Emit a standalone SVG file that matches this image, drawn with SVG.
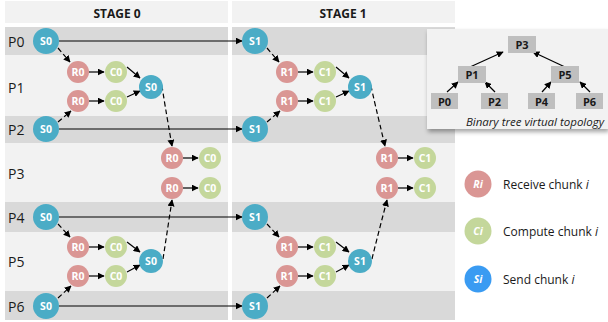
<svg xmlns="http://www.w3.org/2000/svg" width="608" height="322" viewBox="0 0 608 322">
<defs>
<marker id="ah" viewBox="0 0 10 10" refX="9" refY="5" markerWidth="7" markerHeight="7" orient="auto" markerUnits="userSpaceOnUse"><path d="M0,0 L10,5 L0,10 z" fill="#000"/></marker>
<filter id="sh" x="-10%" y="-10%" width="130%" height="140%"><feDropShadow dx="1" dy="3" stdDeviation="2" flood-color="#000" flood-opacity="0.35"/></filter>
<style>
.lt{fill:#f2f2f2}
.dk{fill:#d9d9d9}
.pl{font-family:"Open Sans","Liberation Sans",sans-serif;font-size:14px;fill:#1a1a1a;dominant-baseline:central}
.hd{font-family:"Open Sans","Liberation Sans",sans-serif;font-size:12px;font-weight:bold;fill:#1a1a1a;text-anchor:middle;dominant-baseline:central}
.S{fill:#4bacc6}.R{fill:#da9694}.C{fill:#c4d79b}.SL{fill:#3a9bf2}
.nt{font-family:"Open Sans","Liberation Sans",sans-serif;font-size:10.5px;font-weight:bold;fill:#fff;text-anchor:middle;dominant-baseline:central}
.sol{stroke:#000;stroke-width:1.2;fill:none;marker-end:url(#ah)}
.das{stroke:#000;stroke-width:1.2;fill:none;stroke-dasharray:5,3;marker-end:url(#ah)}
.tb{fill:#bfbfbf}
.tt{font-family:"Open Sans","Liberation Sans",sans-serif;font-size:11px;font-weight:bold;fill:#1a1a1a;text-anchor:middle;dominant-baseline:central}
.lg{font-family:"Open Sans","Liberation Sans",sans-serif;font-size:12px;fill:#1a1a1a;dominant-baseline:central}
.cap{font-family:"Open Sans","Liberation Sans",sans-serif;font-size:11.5px;font-style:italic;fill:#1a1a1a;text-anchor:end;dominant-baseline:central}
</style>
</defs>
<rect width="608" height="322" fill="#fff"/>
<g id="background">
<rect class="lt" x="5" y="1" width="223" height="22"/>
<rect class="lt" x="232" y="1" width="223" height="22"/>
<rect class="dk" x="5" y="27" width="223" height="28"/>
<rect class="dk" x="232" y="27" width="223" height="28"/>
<rect class="lt" x="5" y="55" width="223" height="61"/>
<rect class="lt" x="232" y="55" width="223" height="61"/>
<rect class="dk" x="5" y="116" width="223" height="27"/>
<rect class="dk" x="232" y="116" width="223" height="27"/>
<rect class="lt" x="5" y="143" width="223" height="59"/>
<rect class="lt" x="232" y="143" width="223" height="59"/>
<rect class="dk" x="5" y="202" width="223" height="30"/>
<rect class="dk" x="232" y="202" width="223" height="30"/>
<rect class="lt" x="5" y="232" width="223" height="59"/>
<rect class="lt" x="232" y="232" width="223" height="59"/>
<rect class="dk" x="5" y="291" width="223" height="29"/>
<rect class="dk" x="232" y="291" width="223" height="29"/>
<text class="hd" x="117" y="13">STAGE 0</text>
<text class="hd" x="343" y="13">STAGE 1</text>
<text class="pl" x="8" y="41">P0</text>
<text class="pl" x="8" y="87">P1</text>
<text class="pl" x="8" y="129">P2</text>
<text class="pl" x="8" y="173">P3</text>
<text class="pl" x="8" y="217">P4</text>
<text class="pl" x="8" y="261">P5</text>
<text class="pl" x="8" y="306">P6</text>
</g>
<g id="connectors">
<path class="sol" d="M59,41 H242"/>
<path class="sol" d="M59,129 H242"/>
<path class="sol" d="M59,217 H242"/>
<path class="sol" d="M59,306 H242"/>
<path class="das" d="M58,48 L70,62"/>
<path class="das" d="M58,122 L71,111"/>
<path class="das" d="M58,224 L70,237"/>
<path class="das" d="M58,298 L71,286"/>
<path class="sol" d="M89,72 H104"/><path class="sol" d="M89,101 H104"/>
<path class="sol" d="M89,247 H104"/><path class="sol" d="M89,276 H104"/>
<path class="sol" d="M127,67 L140,78"/><path class="sol" d="M127,97 L140,91"/>
<path class="sol" d="M127,242 L140,252"/><path class="sol" d="M127,272 L140,265"/>
<path class="das" d="M162,86 Q164,100 172,146"/>
<path class="das" d="M163,259 Q165,246 172,200"/>
<path class="sol" d="M183,158 H198"/><path class="sol" d="M183,188 H198"/>
<path class="das" d="M267,48 L279,62"/>
<path class="das" d="M267,122 L280,111"/>
<path class="das" d="M267,224 L279,237"/>
<path class="das" d="M267,298 L280,286"/>
<path class="sol" d="M298,72 H313"/><path class="sol" d="M298,101 H313"/>
<path class="sol" d="M298,247 H313"/><path class="sol" d="M298,276 H313"/>
<path class="sol" d="M336,67 L349,78"/><path class="sol" d="M336,97 L349,91"/>
<path class="sol" d="M336,242 L349,252"/><path class="sol" d="M336,272 L349,265"/>
<path class="das" d="M371,86 Q374,100 385,146"/>
<path class="das" d="M372,259 Q375,246 387,200"/>
<path class="sol" d="M398,158 H413"/><path class="sol" d="M398,188 H413"/>
</g>
<g id="s0-p0"><circle class="S" cx="46" cy="41" r="13"/><text class="nt" x="46" y="41">S0</text></g>
<g id="r0-p1a"><circle class="R" cx="78" cy="72" r="11"/><text class="nt" x="78" y="72">R0</text></g>
<g id="c0-p1a"><circle class="C" cx="116" cy="72" r="11"/><text class="nt" x="116" y="72">C0</text></g>
<g id="r0-p1b"><circle class="R" cx="78" cy="101" r="11"/><text class="nt" x="78" y="101">R0</text></g>
<g id="c0-p1b"><circle class="C" cx="116" cy="101" r="11"/><text class="nt" x="116" y="101">C0</text></g>
<g id="s0-p1"><circle class="S" cx="151" cy="87" r="12"/><text class="nt" x="151" y="87">S0</text></g>
<g id="s0-p2"><circle class="S" cx="46" cy="129" r="13"/><text class="nt" x="46" y="129">S0</text></g>
<g id="r0-p3a"><circle class="R" cx="172" cy="158" r="11"/><text class="nt" x="172" y="158">R0</text></g>
<g id="c0-p3a"><circle class="C" cx="210" cy="158" r="11"/><text class="nt" x="210" y="158">C0</text></g>
<g id="r0-p3b"><circle class="R" cx="172" cy="188" r="11"/><text class="nt" x="172" y="188">R0</text></g>
<g id="c0-p3b"><circle class="C" cx="210" cy="188" r="11"/><text class="nt" x="210" y="188">C0</text></g>
<g id="s0-p4"><circle class="S" cx="46" cy="217" r="13"/><text class="nt" x="46" y="217">S0</text></g>
<g id="r0-p5a"><circle class="R" cx="78" cy="247" r="11"/><text class="nt" x="78" y="247">R0</text></g>
<g id="c0-p5a"><circle class="C" cx="116" cy="247" r="11"/><text class="nt" x="116" y="247">C0</text></g>
<g id="r0-p5b"><circle class="R" cx="78" cy="276" r="11"/><text class="nt" x="78" y="276">R0</text></g>
<g id="c0-p5b"><circle class="C" cx="116" cy="276" r="11"/><text class="nt" x="116" y="276">C0</text></g>
<g id="s0-p5"><circle class="S" cx="151" cy="261" r="12"/><text class="nt" x="151" y="261">S0</text></g>
<g id="s0-p6"><circle class="S" cx="46" cy="306" r="13"/><text class="nt" x="46" y="306">S0</text></g>
<g id="s1-p0"><circle class="S" cx="255" cy="41" r="13"/><text class="nt" x="255" y="41">S1</text></g>
<g id="r1-p1a"><circle class="R" cx="287" cy="72" r="11"/><text class="nt" x="287" y="72">R1</text></g>
<g id="c1-p1a"><circle class="C" cx="325" cy="72" r="11"/><text class="nt" x="325" y="72">C1</text></g>
<g id="r1-p1b"><circle class="R" cx="287" cy="101" r="11"/><text class="nt" x="287" y="101">R1</text></g>
<g id="c1-p1b"><circle class="C" cx="325" cy="101" r="11"/><text class="nt" x="325" y="101">C1</text></g>
<g id="s1-p1"><circle class="S" cx="360" cy="87" r="12"/><text class="nt" x="360" y="87">S1</text></g>
<g id="s1-p2"><circle class="S" cx="255" cy="129" r="13"/><text class="nt" x="255" y="129">S1</text></g>
<g id="r1-p3a"><circle class="R" cx="387" cy="158" r="11"/><text class="nt" x="387" y="158">R1</text></g>
<g id="c1-p3a"><circle class="C" cx="425" cy="158" r="11"/><text class="nt" x="425" y="158">C1</text></g>
<g id="r1-p3b"><circle class="R" cx="387" cy="188" r="11"/><text class="nt" x="387" y="188">R1</text></g>
<g id="c1-p3b"><circle class="C" cx="425" cy="188" r="11"/><text class="nt" x="425" y="188">C1</text></g>
<g id="s1-p4"><circle class="S" cx="255" cy="217" r="13"/><text class="nt" x="255" y="217">S1</text></g>
<g id="r1-p5a"><circle class="R" cx="287" cy="247" r="11"/><text class="nt" x="287" y="247">R1</text></g>
<g id="c1-p5a"><circle class="C" cx="325" cy="247" r="11"/><text class="nt" x="325" y="247">C1</text></g>
<g id="r1-p5b"><circle class="R" cx="287" cy="276" r="11"/><text class="nt" x="287" y="276">R1</text></g>
<g id="c1-p5b"><circle class="C" cx="325" cy="276" r="11"/><text class="nt" x="325" y="276">C1</text></g>
<g id="s1-p5"><circle class="S" cx="360" cy="261" r="12"/><text class="nt" x="360" y="261">S1</text></g>
<g id="s1-p6"><circle class="S" cx="255" cy="306" r="13"/><text class="nt" x="255" y="306">S1</text></g>
<g id="inset">
<rect x="427" y="29" width="181" height="100" fill="#f2f2f2" filter="url(#sh)"/>
<g id="tree-connectors">
<path class="sol" d="M470,67 L503,52"/>
<path class="sol" d="M565,67 L533,52"/>
<path class="sol" d="M447,92 L458,82"/>
<path class="sol" d="M495,92 L485,82"/>
<path class="sol" d="M542,92 L551,82"/>
<path class="sol" d="M590,92 L580,82"/>
</g>
<g id="t-p3"><rect class="tb" x="508" y="36" width="28" height="17"/><text class="tt" x="522" y="44.5">P3</text></g>
<g id="t-p1"><rect class="tb" x="458" y="66" width="28" height="17"/><text class="tt" x="472" y="74.5">P1</text></g>
<g id="t-p5"><rect class="tb" x="551" y="66" width="28" height="17"/><text class="tt" x="565" y="74.5">P5</text></g>
<g id="t-p0"><rect class="tb" x="431" y="93" width="27" height="16"/><text class="tt" x="444.5" y="101">P0</text></g>
<g id="t-p2"><rect class="tb" x="481" y="93" width="27" height="16"/><text class="tt" x="494.5" y="101">P2</text></g>
<g id="t-p4"><rect class="tb" x="528" y="93" width="27" height="16"/><text class="tt" x="541.5" y="101">P4</text></g>
<g id="t-p6"><rect class="tb" x="576" y="93" width="27" height="16"/><text class="tt" x="589.5" y="101">P6</text></g>
<text class="cap" x="604" y="121">Binary tree virtual topology</text>
</g>
<g id="legend">
<g id="lg-r"><circle class="R" cx="478" cy="184" r="13.5"/><text class="nt" x="478" y="184" font-size="13" font-style="italic">Ri</text><text class="lg" x="503" y="184">Receive chunk <tspan font-style="italic">i</tspan></text></g>
<g id="lg-c"><circle class="C" cx="478" cy="231" r="13.5"/><text class="nt" x="478" y="231" font-size="13" font-style="italic">Ci</text><text class="lg" x="503" y="231">Compute chunk <tspan font-style="italic">i</tspan></text></g>
<g id="lg-s"><circle class="SL" cx="478" cy="279" r="13.5"/><text class="nt" x="478" y="279" font-size="13" font-style="italic">Si</text><text class="lg" x="503" y="279">Send chunk <tspan font-style="italic">i</tspan></text></g>
</g>
</svg>
